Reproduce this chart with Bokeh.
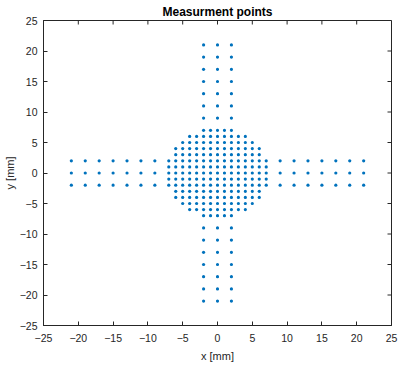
import math
from bokeh.plotting import figure
from bokeh.models import FixedTicker, Range1d, ColumnDataSource
from bokeh.embed import file_html
from bokeh.resources import INLINE

# Central disk: rows (y) with half-widths of the x grid (step 1 mm)
disk_rows = [7, 6, 5, 4, 3, 2, 1, 0, -1, -2, -3, -4, -5, -6, -7]
disk_half_widths = [2, 4, 5, 6, 6, 7, 7, 7, 7, 7, 6, 6, 5, 4, 2]
# Arms: distances from centre (step 2 mm) and lateral offsets
arm_positions = [9, 11, 13, 15, 17, 19, 21]
arm_offsets = [-2, 0, 2]
ticks = [-25, -20, -15, -10, -5, 0, 5, 10, 15, 20, 25]
axis_min, axis_max = -25, 25

xs, ys = [], []
for y, hw in zip(disk_rows, disk_half_widths):
    for x in range(-hw, hw + 1):
        xs.append(x); ys.append(y)
for d in arm_positions:
    for s in (1, -1):
        for o in arm_offsets:
            xs.append(o); ys.append(s * d)   # vertical arm
            xs.append(s * d); ys.append(o)   # horizontal arm

src = ColumnDataSource(dict(x=xs, y=ys))

FONT = "Liberation Sans"
AX = "#262626"
p = figure(frame_width=348, frame_height=305, output_backend="svg", toolbar_location=None,
           x_range=Range1d(axis_min, axis_max), y_range=Range1d(axis_min, axis_max),
           min_border_left=35, min_border_right=9, min_border_top=18, min_border_bottom=31,
           title="Measurment points")
p.title.align = "center"
p.title.text_font = FONT
p.title.text_font_size = "12px"
p.title.text_font_style = "bold"
p.title.text_color = "#000000"
p.title.offset = 0
p.title.standoff = 4

p.scatter("x", "y", source=src, size=3.2, color="#0072BD", line_width=0)

p.grid.visible = False
p.outline_line_color = AX
p.outline_line_width = 1
p.background_fill_color = "white"
p.border_fill_color = "white"

for ax in (p.xaxis[0], p.yaxis[0]):
    ax.ticker = FixedTicker(ticks=ticks)
    ax.major_tick_in = 4
    ax.major_tick_out = 0
    ax.minor_tick_line_color = None
    ax.axis_line_color = AX
    ax.major_tick_line_color = AX
    ax.major_label_text_font = FONT
    ax.major_label_text_font_size = "10.5px"
    ax.major_label_text_color = AX
    ax.axis_label_text_font = FONT
    ax.axis_label_text_font_size = "11px"
    ax.axis_label_text_font_style = "normal"
    ax.axis_label_text_color = AX
p.xaxis.axis_label = "x [mm]"
p.yaxis.axis_label = "y [mm]"
p.xaxis.major_label_standoff = 8
p.xaxis.axis_label_standoff = 5
p.yaxis.major_label_standoff = 6
p.yaxis.axis_label_standoff = 1

# inward ticks on the top and right edges of the box
p.ray(x=ticks, y=[axis_max] * len(ticks), length=4, length_units="screen",
      angle=-math.pi / 2, line_color=AX, line_width=1)
p.ray(x=[axis_max] * len(ticks), y=ticks, length=4, length_units="screen",
      angle=math.pi, line_color=AX, line_width=1)

open("out.html", "w").write(file_html(p, INLINE))
